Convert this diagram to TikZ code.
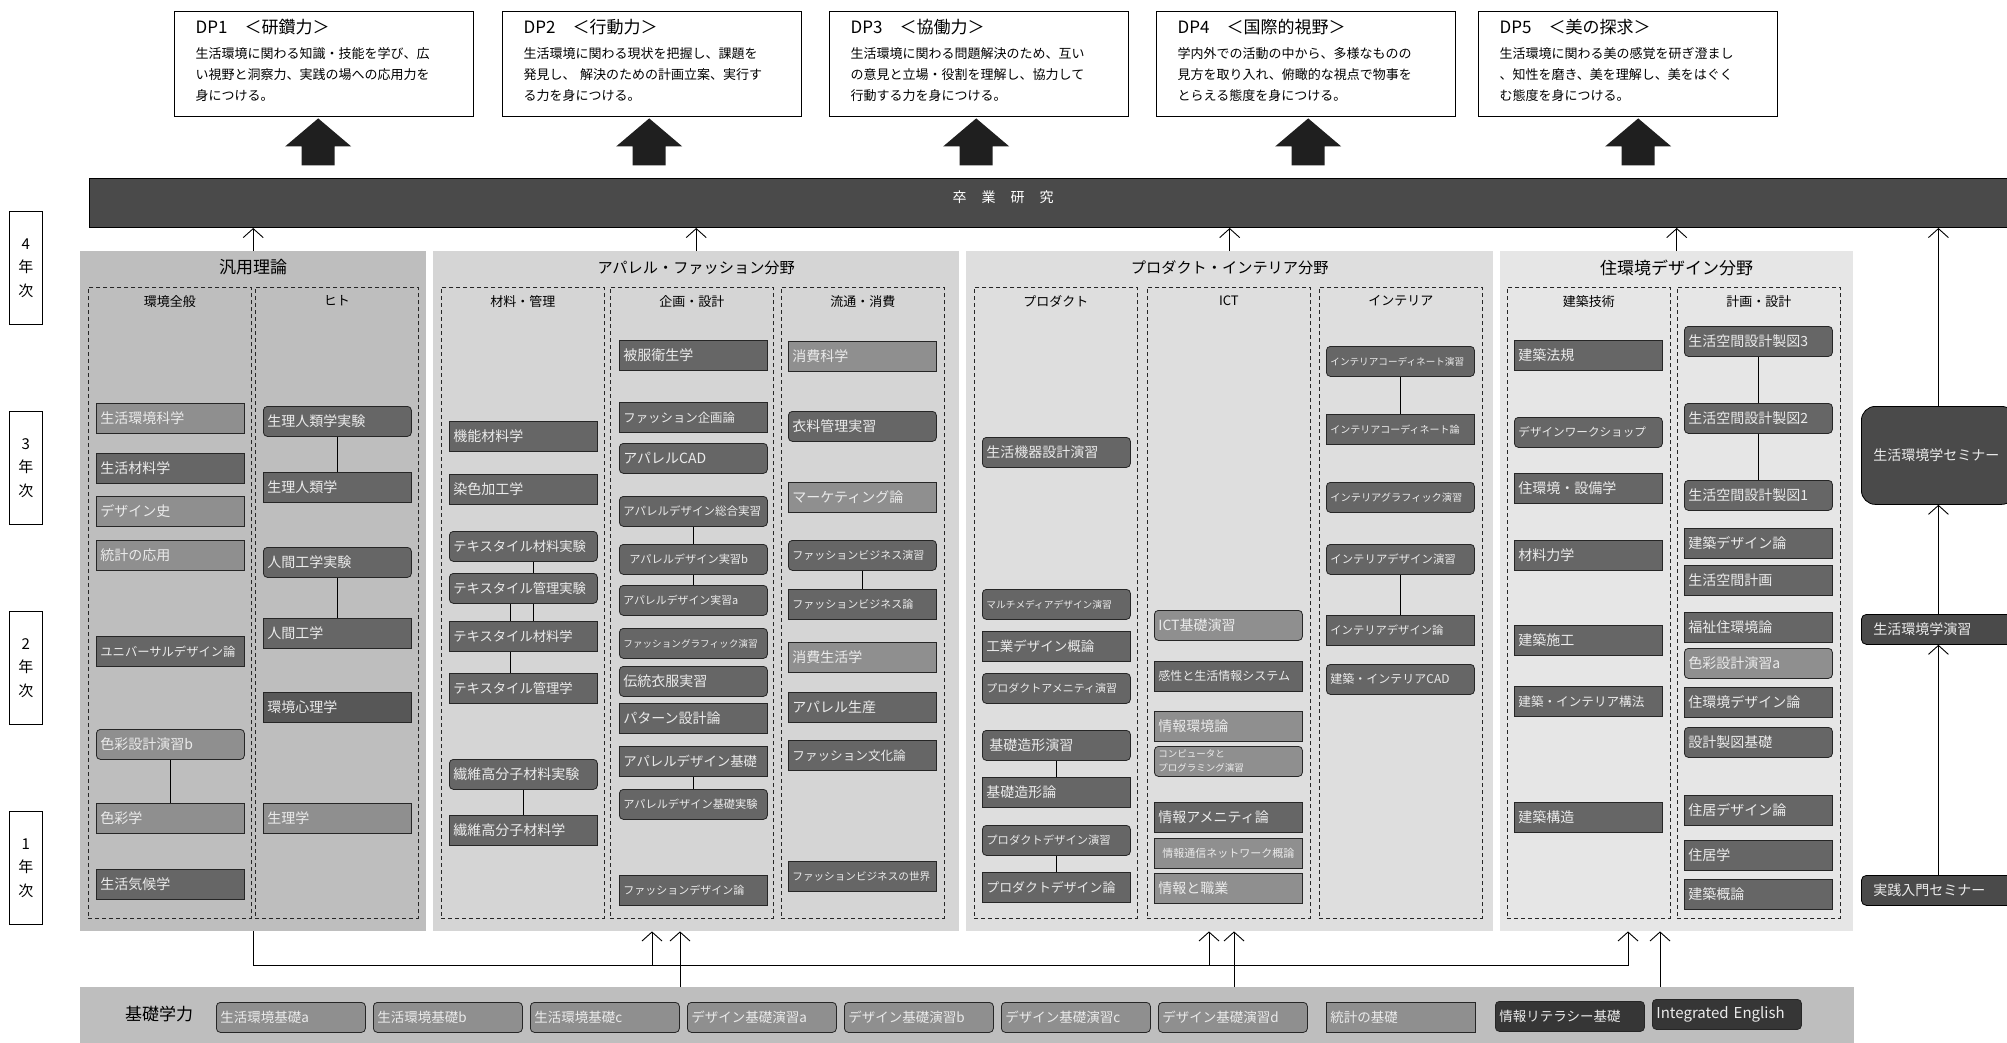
\documentclass[tikz,border=0pt]{standalone}
\usepackage{fontspec}
\setmainfont{Noto Sans CJK JP}
\usetikzlibrary{arrows.meta}

\definecolor{cMid}{HTML}{8F8F8F}
\definecolor{cDark}{HTML}{666666}
\definecolor{cDeep}{HTML}{575757}
\definecolor{cBar}{HTML}{4A4A4A}
\definecolor{cBlk}{HTML}{363636}
\definecolor{pHanyo}{HTML}{BEBEBE}
\definecolor{pApp}{HTML}{D5D5D5}
\definecolor{pProd}{HTML}{DEDEDE}
\definecolor{pJuk}{HTML}{E6E6E6}
\definecolor{cBand}{HTML}{BEBEBE}

\pgfdeclarelayer{back}
\pgfdeclarelayer{wires}
\pgfsetlayers{back,wires,main}

\begin{document}
\begin{tikzpicture}[x=1pt, y=-1pt,
    fs/.style={font=\fontsize{#1}{#1}\selectfont},
    crs/.style={draw=black!85, line width=.8pt, fill=cDark, text=white!92!black,
      anchor=north west, minimum height=30pt, text width=140pt,
      inner xsep=4pt, inner ysep=0pt, align=left, fs=14},
    md/.style={fill=cMid},
    rnd/.style={rounded corners=4pt},
    panel/.style={anchor=north west, inner sep=0pt, minimum height=680pt},
    grp/.style={draw=black!85, line width=.8pt, dash pattern=on 4pt off 3pt,
      anchor=north west, inner sep=0pt, minimum width=163pt, minimum height=631pt},
    dpbox/.style={draw, line width=1.4pt, fill=white, anchor=north west,
      text width=257pt, inner xsep=21pt, minimum height=105pt, align=left,
      font=\fontsize{13}{21}\selectfont},
    yr/.style={draw, line width=.8pt, anchor=north west, minimum width=33pt,
      minimum height=113pt, inner sep=0pt, align=center,
      font=\fontsize{15}{23.5}\selectfont},
    kb/.style={draw=black!85, line width=.8pt, fill=cMid, rounded corners=4pt,
      text=white!92!black, anchor=north west, minimum height=30pt,
      text width=141pt, inner xsep=4pt, inner ysep=0pt, align=left, fs=13.5},
    side/.style={draw=black, line width=.8pt, fill=cBar, text=white!92!black,
      rounded corners=5pt, anchor=north west, minimum height=30pt,
      text width=130pt, inner xsep=12pt, inner ysep=0pt, align=left, fs=14},
    arr/.style={-{Straight Barb[length=9pt,width=20pt]}, line width=.9pt},
  ]
  \useasboundingbox (0,0) rectangle (2007,1043);

  % DP
  \node[dpbox] (dp1) at (174,11) {{\fontsize{17}{20}\selectfont DP1\hspace{17pt}＜研鑽力＞}\\[4pt]
    生活環境に関わる知識・技能を学び、広\\
    い視野と洞察力、実践の場への応用力を\\
    身につける。\\[-13pt]\mbox{}};
  \node[dpbox] (dp2) at (502,11) {{\fontsize{17}{20}\selectfont DP2\hspace{17pt}＜行動力＞}\\[4pt]
    生活環境に関わる現状を把握し、課題を\\
    発見し、 解決のための計画立案、実行す\\
    る力を身につける。\\[-13pt]\mbox{}};
  \node[dpbox] (dp3) at (829,11) {{\fontsize{17}{20}\selectfont DP3\hspace{17pt}＜協働力＞}\\[4pt]
    生活環境に関わる問題解決のため、互い\\
    の意見と立場・役割を理解し、協力して\\
    行動する力を身につける。\\[-13pt]\mbox{}};
  \node[dpbox] (dp4) at (1156,11) {{\fontsize{17}{20}\selectfont DP4\hspace{17pt}＜国際的視野＞}\\[4pt]
    学内外での活動の中から、多様なものの\\
    見方を取り入れ、俯瞰的な視点で物事を\\
    とらえる態度を身につける。\\[-13pt]\mbox{}};
  \node[dpbox] (dp5) at (1478,11) {{\fontsize{17}{20}\selectfont DP5\hspace{17pt}＜美の探求＞}\\[4pt]
    生活環境に関わる美の感覚を研ぎ澄まし\\
    、知性を磨き、美を理解し、美をはぐく\\
    む態度を身につける。\\[-13pt]\mbox{}};

  % block arrows
  \foreach \d/\dx in {dp1/-6pt,dp2/-3pt,dp3/-3pt,dp4/2pt,dp5/10pt}
    \fill[black!88] ([xshift=\dx,yshift=-1pt]\d.south) -- ++(33,28) -- ++(-16.5,0)
      -- ++(0,19) -- ++(-33,0) -- ++(0,-19) -- ++(-16.5,0) -- cycle;

  % bar
  \node[anchor=north west, draw, line width=1pt, fill=cBar, inner sep=0pt,
    minimum width=1940pt, minimum height=49pt] (bar) at (89,178) {};
  \node[text=white, fs=14] (bartxt) at (1003,197)
    {卒\hspace{15pt}業\hspace{15pt}研\hspace{15pt}究};

  % years
  \foreach \n/\yy in {4/211,3/411,2/611,1/811}
    \node[yr] (yr\n) at (9,\yy) {\n\\年\\次};

  % panels
  \begin{pgfonlayer}{back}
    \node[panel, fill=pHanyo, minimum width=346pt,
      label={[name=hanyoT,anchor=north,yshift=-5pt,fs=17]north:汎用理論}] (hanyo) at (80,251) {};
    \node[panel, fill=pApp, minimum width=526pt,
      label={[name=apparelT,anchor=north,yshift=-6pt,fs=15.2]north:アパレル・ファッション分野}] (apparel) at (433,251) {};
    \node[panel, fill=pProd, minimum width=527pt,
      label={[name=productT,anchor=north,yshift=-6pt,fs=15.2]north:プロダクト・インテリア分野}] (product) at (966,251) {};
    \node[panel, fill=pJuk, minimum width=353pt,
      label={[name=jukanT,anchor=north,yshift=-5pt,fs=17]north:住環境デザイン分野}] (jukan) at (1500,251) {};

    \foreach \g/\xx/\t in {gEnv/88/環境全般, gHito/255/ヒト, gZai/441/材料・管理,
        gKik/610/企画・設計, gRyu/781/流通・消費, gProd/974/プロダクト, gIct/1147/ICT,
        gInt/1319/インテリア, gKgj/1507/建築技術, gKks/1677/計画・設計}
      \node[grp, label={[name=\g T,anchor=north,yshift=-5pt,fs=13]north:\t}] (\g) at (\xx,287) {};
  \end{pgfonlayer}

  % 汎用理論
  \node[crs,md] (kk1) at (96,403) {生活環境科学};
  \node[crs] (kk2) at (96,453) {生活材料学};
  \node[crs,md] (kk3) at (96,496) {デザイン史};
  \node[crs,md] (kk4) at (96,540) {統計の応用};
  \node[crs,fs=12.3] (kk5) at (96,636) {ユニバーサルデザイン論};
  \node[crs,md,rnd] (kk6) at (96,729) {色彩設計演習b};
  \node[crs,md] (kk7) at (96,803) {色彩学};
  \node[crs] (kk8) at (96,869) {生活気候学};

  \node[crs,rnd] (ht1) at (263,406) {生理人類学実験};
  \node[crs] (ht2) at (263,472) {生理人類学};
  \node[crs,rnd] (ht3) at (263,547) {人間工学実験};
  \node[crs] (ht4) at (263,618) {人間工学};
  \node[crs,fill=cDeep] (ht5) at (263,692) {環境心理学};
  \node[crs,md] (ht6) at (263,803) {生理学};

  % アパレル・ファッション
  \node[crs] (zr1) at (449,421) {機能材料学};
  \node[crs] (zr2) at (449,474) {染色加工学};
  \node[crs,rnd,fs=13.3] (zr3) at (449,531) {テキスタイル材料実験};
  \node[crs,rnd,fs=13.3] (zr4) at (449,573) {テキスタイル管理実験};
  \node[crs,fs=13.3] (zr5) at (449,621) {テキスタイル材料学};
  \node[crs,fs=13.3] (zr6) at (449,673) {テキスタイル管理学};
  \node[crs,rnd] (zr7) at (449,759) {繊維高分子材料実験};
  \node[crs] (zr8) at (449,815) {繊維高分子材料学};

  \node[crs] (kd1) at (619,340) {被服衛生学};
  \node[crs,fs=12.4] (kd2) at (619,402) {ファッション企画論};
  \node[crs,rnd] (kd3) at (619,443) {アパレルCAD};
  \node[crs,rnd,fs=11.5] (kd4) at (619,496) {アパレルデザイン総合実習};
  \node[crs,rnd,fs=11.2] (kd5) at (619,544) {\hspace*{6pt}アパレルデザイン実習b};
  \node[crs,rnd,fs=10.9] (kd6) at (619,585) {アパレルデザイン実習a};
  \node[crs,rnd,fs=9.6] (kd7) at (619,628) {ファッショングラフィック演習};
  \node[crs,rnd] (kd8) at (619,666) {伝統衣服実習};
  \node[crs] (kd9) at (619,703) {パターン設計論};
  \node[crs,fs=13.4] (kd10) at (619,746) {アパレルデザイン基礎};
  \node[crs,rnd,fs=11.2] (kd11) at (619,789) {アパレルデザイン基礎実験};
  \node[crs,fs=11] (kd12) at (619,875) {ファッションデザイン論};

  \node[crs,md] (rt1) at (788,341) {消費科学};
  \node[crs,rnd] (rt2) at (788,411) {衣料管理実習};
  \node[crs,md] (rt3) at (788,482) {マーケティング論};
  \node[crs,rnd,fs=11] (rt4) at (788,540) {ファッションビジネス演習};
  \node[crs,fs=11] (rt5) at (788,589) {ファッションビジネス論};
  \node[crs,md] (rt6) at (788,642) {消費生活学};
  \node[crs] (rt7) at (788,692) {アパレル生産};
  \node[crs,fs=12.6] (rt8) at (788,740) {ファッション文化論};
  \node[crs,fs=10.6] (rt9) at (788,861) {ファッションビジネスの世界};

  % プロダクト・インテリア
  \node[crs,rnd] (pd1) at (982,437) {生活機器設計演習};
  \node[crs,rnd,fs=9.7] (pd2) at (982,589) {マルチメディアデザイン演習};
  \node[crs,fs=13.5] (pd3) at (982,631) {工業デザイン概論};
  \node[crs,rnd,fs=11] (pd4) at (982,673) {プロダクトアメニティ演習};
  \node[crs,rnd] (pd5) at (982,730) {\hspace*{3pt}基礎造形演習};
  \node[crs] (pd6) at (982,777) {基礎造形論};
  \node[crs,rnd,fs=11.3] (pd7) at (982,825) {プロダクトデザイン演習};
  \node[crs,fs=12.9] (pd8) at (982,872) {プロダクトデザイン論};

  \node[crs,md,rnd] (ic1) at (1154,610) {ICT基礎演習};
  \node[crs,fs=12] (ic2) at (1154,661) {感性と生活情報システム};
  \node[crs,md] (ic3) at (1154,711) {情報環境論};
  \node[crs,md,rnd,font=\fontsize{9.5}{14}\selectfont] (ic4) at (1154,746)
    {コンピュータと\\プログラミング演習};
  \node[crs] (ic5) at (1154,802) {情報アメニティ論};
  \node[crs,md,fs=11] (ic6) at (1154,838) {\hspace*{4pt}情報通信ネットワーク概論};
  \node[crs,md] (ic7) at (1154,873) {情報と職業};

  \node[crs,rnd,fs=9.6] (in1) at (1326,346) {インテリアコーディネート演習};
  \node[crs,fs=10] (in2) at (1326,414) {インテリアコーディネート論};
  \node[crs,rnd,fs=10.2] (in3) at (1326,482) {インテリアグラフィック演習};
  \node[crs,rnd,fs=11.4] (in4) at (1326,544) {インテリアデザイン演習};
  \node[crs,fs=11.3] (in5) at (1326,615) {インテリアデザイン論};
  \node[crs,rnd,fs=12] (in6) at (1326,664) {建築・インテリアCAD};

  % 住環境デザイン
  \node[crs] (kg1) at (1514,340) {建築法規};
  \node[crs,rnd,fs=11.6] (kg2) at (1514,417) {デザインワークショップ};
  \node[crs] (kg3) at (1514,473) {住環境・設備学};
  \node[crs] (kg4) at (1514,540) {材料力学};
  \node[crs] (kg5) at (1514,625) {建築施工};
  \node[crs,fs=12.6] (kg6) at (1514,686) {建築・インテリア構法};
  \node[crs] (kg7) at (1514,802) {建築構造};

  \node[crs,rnd] (ks1) at (1684,326) {生活空間設計製図3};
  \node[crs,rnd] (ks2) at (1684,403) {生活空間設計製図2};
  \node[crs,rnd] (ks3) at (1684,480) {生活空間設計製図1};
  \node[crs] (ks4) at (1684,528) {建築デザイン論};
  \node[crs] (ks5) at (1684,565) {生活空間計画};
  \node[crs] (ks6) at (1684,612) {福祉住環境論};
  \node[crs,md,rnd] (ks7) at (1684,648) {色彩設計演習a};
  \node[crs] (ks8) at (1684,687) {住環境デザイン論};
  \node[crs,rnd] (ks9) at (1684,727) {設計製図基礎};
  \node[crs] (ks10) at (1684,795) {住居デザイン論};
  \node[crs] (ks11) at (1684,840) {住居学};
  \node[crs] (ks12) at (1684,879) {建築概論};

  % links
  \begin{pgfonlayer}{wires}
    \foreach \a/\b in {kk6/kk7, ht1/ht2, ht3/ht4, zr7/zr8, kd4/kd6, kd10/kd11,
        rt4/rt5, pd5/pd6, pd7/pd8, in1/in2, in4/in5, ks1/ks3}
      \draw[line width=.9pt] (\a) -- (\b);
    \draw[line width=.9pt] ([xshift=10pt]zr3.center) -- ([xshift=10pt]zr5.center);
    \draw[line width=.9pt] ([xshift=-13pt]zr4.center) -- ([xshift=-13pt]zr6.center);
  \end{pgfonlayer}

  % seminar
  \node[side, minimum height=98pt, rounded corners=14pt] (sem) at (1861,406) {生活環境学セミナー};
  \node[side] (ens) at (1861,614) {生活環境学演習};
  \node[side] (jis) at (1861,875) {実践入門セミナー};
  \draw[arr] (jis.north) -- (ens.south);
  \draw[arr] (ens.north) -- (sem.south);
  \draw[arr] (sem.north) -- (sem.north |- bar.south);

  % into bar
  \foreach \p in {hanyo,apparel,product,jukan}
    \draw[arr] (\p.north) -- (\p.north |- bar.south);

  % kiso
  \node[anchor=north west, fill=cBand, inner sep=0pt, minimum width=1774pt,
    minimum height=60pt] (kiso) at (80,987) {};
  \node[fs=17] (kisoT) at (159,1014) {基礎学力};
  \foreach \i/\xx/\t in {1/216/生活環境基礎a, 2/373/生活環境基礎b, 3/530/生活環境基礎c,
      4/687/デザイン基礎演習a, 5/844/デザイン基礎演習b, 6/1001/デザイン基礎演習c,
      7/1158/デザイン基礎演習d}
    \node[kb] (kb\i) at (\xx,1002) {\t};
  \node[kb, sharp corners] (kb8) at (1326,1002) {統計の基礎};
  \node[kb, fill=cBlk] (kb9) at (1495,1001) {情報リテラシー基礎};
  \node[kb, fill=cBlk, fs=15] (kb10) at (1652,999) {Integrated English};

  % wiring
  \coordinate (bus) at (0,965);
  \coordinate (busR) at (1628,965);
  \draw[arr] (hanyo.south) -- (hanyo.south |- bus) -- (busR) -- (busR |- jukan.south);
  \coordinate (apA) at (652,965);
  \coordinate (prA) at (1209,965);
  \draw[arr] (apA) -- (apA |- apparel.south);
  \draw[arr] (prA) -- (prA |- product.south);
  \foreach \xx/\p in {680/apparel,1234/product,1660/jukan} {
    \coordinate (up\p) at (\xx,0);
    \draw[arr] (up\p |- kiso.north) -- (up\p |- \p.south);
  }
\end{tikzpicture}
\end{document}
